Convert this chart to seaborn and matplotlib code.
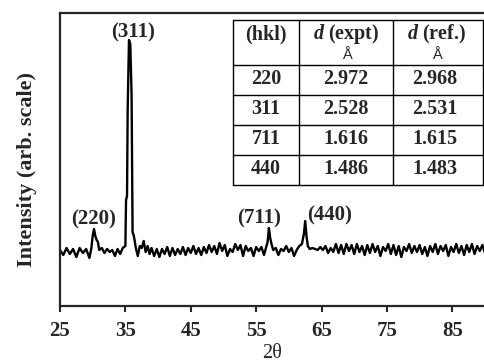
import matplotlib
matplotlib.use("Agg")
import matplotlib.pyplot as plt
import seaborn as sns
import pandas as pd
from matplotlib.lines import Line2D

# ---------------- data ----------------
two_theta = [25.0, 25.5, 26.0, 26.5, 27.0, 27.5, 28.0, 28.5, 29.0, 29.5,
             29.8, 30.0, 30.2, 30.4, 30.6, 30.8, 31.0, 31.4, 31.8, 32.2,
             32.6, 33.0, 33.4, 33.8, 34.2, 34.6, 35.0, 35.1, 35.25, 35.35,
             35.55, 35.75, 35.95, 36.1, 36.3, 36.6, 36.9, 37.2, 37.5, 37.8,
             38.1, 38.4, 38.7, 39.0, 39.4, 39.8, 40.2, 40.6, 41.0, 41.4,
             41.8, 42.2, 42.6, 43.0, 43.4, 43.8, 44.2, 44.6, 45.0, 45.4,
             45.8, 46.2, 46.6, 47.0, 47.4, 47.8, 48.2, 48.6, 49.0, 49.4,
             49.8, 50.2, 50.6, 51.0, 51.4, 51.8, 52.2, 52.6, 53.0, 53.4,
             53.8, 54.2, 54.6, 55.0, 55.4, 55.8, 56.2, 56.5, 56.75, 56.95,
             57.15, 57.35, 57.6, 58.0, 58.4, 58.8, 59.2, 59.6, 60.0, 60.4,
             60.8, 61.2, 61.6, 62.0, 62.3, 62.5, 62.7, 62.9, 63.2, 63.6,
             64.0, 64.4, 64.8, 65.2, 65.6, 66.0, 66.4, 66.8, 67.2, 67.6,
             68.0, 68.4, 68.8, 69.2, 69.6, 70.0, 70.4, 70.8, 71.2, 71.6,
             72.0, 72.4, 72.8, 73.2, 73.6, 74.0, 74.4, 74.8, 75.2, 75.6,
             76.0, 76.4, 76.8, 77.2, 77.6, 78.0, 78.4, 78.8, 79.2, 79.6,
             80.0, 80.4, 80.8, 81.2, 81.6, 82.0, 82.4, 82.8, 83.2, 83.6,
             84.0, 84.4, 84.8, 85.2, 85.6, 86.0, 86.4, 86.8, 87.2, 87.6,
             88.0, 88.4, 88.8, 89.2, 89.6, 90.0]
intensity = [56, 51, 58, 52, 57, 49, 58, 53, 57, 48,
             58, 70, 77, 70, 66, 64, 56, 58, 53, 57,
             54, 56, 50, 57, 52, 58, 60, 106, 110, 196,
             266, 262, 210, 74, 70, 58, 50, 60, 58, 65,
             54, 60, 52, 58, 50, 57, 49, 57, 52, 59,
             50, 58, 51, 57, 52, 59, 51, 58, 53, 60,
             52, 58, 51, 59, 53, 61, 54, 60, 52, 63,
             55, 61, 50, 57, 54, 62, 56, 61, 50, 60,
             55, 58, 50, 59, 55, 59, 51, 58, 64, 78,
             68, 62, 56, 58, 51, 57, 55, 60, 54, 58,
             50, 56, 60, 62, 72, 85, 70, 60, 57, 58,
             57, 56, 59, 56, 60, 53, 58, 54, 62, 53,
             61, 52, 62, 55, 61, 52, 62, 54, 60, 51,
             61, 53, 62, 54, 60, 50, 59, 55, 62, 52,
             61, 51, 60, 49, 59, 55, 62, 53, 60, 54,
             61, 52, 59, 50, 60, 54, 62, 52, 60, 55,
             61, 50, 59, 54, 62, 53, 60, 51, 61, 54,
             62, 52, 60, 55, 61, 53]

peak_labels = ["(220)", "(311)", "(711)", "(440)"]
peak_label_x = [30.1, 36.2, 55.4, 66.3]
peak_label_y = [87, 274, 88, 91]

x_ticks = [25, 35, 45, 55, 65, 75, 85]

table_header = ["(hkl)", "d (expt)", "d (ref.)"]
table_hkl = ["220", "311", "711", "440"]
table_d_expt = ["2.972", "2.528", "1.616", "1.486"]
table_d_ref = ["2.968", "2.531", "1.615", "1.483"]

# ---------------- style ----------------
sns.set_style("ticks")
plt.rcParams['font.family'] = ['Liberation Serif', 'DejaVu Serif']
plt.rcParams['mathtext.fontset'] = 'custom'
plt.rcParams['mathtext.bfit'] = 'Liberation Serif:italic:bold'
plt.rcParams['mathtext.it'] = 'Liberation Serif:italic'
plt.rcParams['mathtext.rm'] = 'Liberation Serif'

W, H = 485, 364
fig = plt.figure(figsize=(W / 100, H / 100), dpi=100)
L, R, T, B = 60, 485, 13, 306
ax = fig.add_axes([L / W, (H - B) / H, (R - L) / W, (B - T) / H])

df = pd.DataFrame({"two_theta": two_theta, "intensity": intensity})
sns.lineplot(data=df, x="two_theta", y="intensity", ax=ax, sort=False,
             estimator=None, color="black", linewidth=1.7)

ax.set_xlim(25, 90)
ax.set_ylim(0, 293)
ax.set_xticks(x_ticks)
ax.set_xticklabels([str(t) for t in x_ticks], fontsize=15, fontweight='bold')
ax.set_yticks([])
ax.tick_params(axis='x', direction='out', length=4, width=1.5, pad=7)
for s in ['left', 'bottom', 'top']:
    ax.spines[s].set_linewidth(1.6)
ax.spines['right'].set_visible(False)
ax.set_xlabel("2θ", fontsize=14.5, labelpad=2)
ax.set_ylabel("Intensity (arb. scale)", fontsize=16, fontweight='bold')
ax.yaxis.set_label_coords(-0.054, 0.465)

for lab, lx, ly in zip(peak_labels, peak_label_x, peak_label_y):
    ax.text(lx, ly, lab, ha='center', va='center', fontsize=15, fontweight='bold')

# ---------------- inset table (pixel overlay) ----------------
ov = fig.add_axes([0, 0, 1, 1], facecolor='none')
ov.set_xlim(0, W)
ov.set_ylim(H, 0)
ov.axis('off')

cols = [233, 299, 393, 483]
rows = [20, 65, 95, 125, 155, 185]
for cx in cols:
    ov.add_line(Line2D([cx, cx], [rows[0], rows[-1]], color='black', lw=1.0))
for ry in rows:
    ov.add_line(Line2D([cols[0], cols[-1]], [ry, ry], color='black', lw=1.0))

fs_t = 14.5
ov.text(266, 34, table_header[0], ha='center', va='center', fontsize=fs_t, fontweight='bold')
ov.text(346, 34, r"$\mathbfit{d}$" + table_header[1][1:], ha='center', va='center',
        fontsize=fs_t, fontweight='bold')
ov.text(437, 34, r"$\mathbfit{d}$" + table_header[2][1:], ha='center', va='center',
        fontsize=fs_t, fontweight='bold')
ov.text(347, 55, "Å", ha='center', va='center', fontsize=10.5, family='Liberation Sans')
ov.text(437, 55, "Å", ha='center', va='center', fontsize=10.5, family='Liberation Sans')

row_y = [79, 109, 139, 169]
for i, ry in enumerate(row_y):
    ov.text(266, ry, table_hkl[i], ha='center', va='center', fontsize=fs_t, fontweight='bold')
    ov.text(346, ry, table_d_expt[i], ha='center', va='center', fontsize=fs_t, fontweight='bold')
    ov.text(435, ry, table_d_ref[i], ha='center', va='center', fontsize=fs_t, fontweight='bold')

fig.savefig("out.png", dpi=100)
